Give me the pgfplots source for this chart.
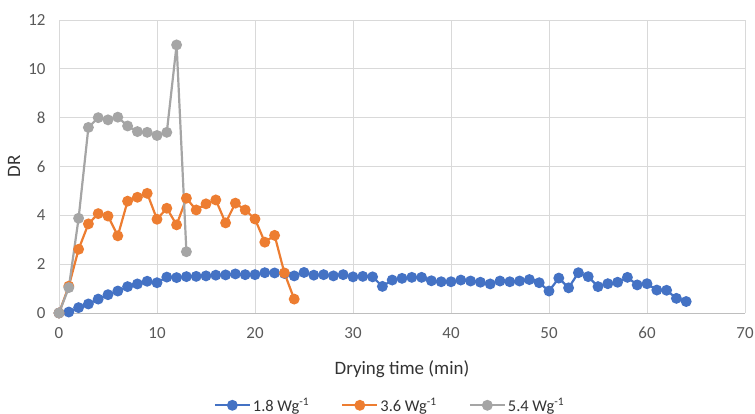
\documentclass[border=0pt]{standalone}
\usepackage{fontspec}
\setmainfont{Carlito}
\usepackage{pgfplots}
\pgfplotsset{compat=1.18}
\definecolor{cblue}{HTML}{4472C4}
\definecolor{corange}{HTML}{ED7D31}
\definecolor{cgray}{HTML}{A5A5A5}
\definecolor{cgrid}{HTML}{D9D9D9}
\definecolor{ctext}{HTML}{595959}
\begin{document}
\begin{tikzpicture}[x=1bp,y=1bp]
\begin{axis}[
  scale only axis, width=686bp, height=293bp,
  xmin=0, xmax=70, ymin=0, ymax=12,
  xtick={0,10,...,70}, ytick={0,2,...,12},
  grid=major, major grid style={cgrid, line width=0.8bp},
  axis line style={draw=none},
  tick style={draw=none},
  clip=false,
  /pgf/number format/assume math mode=true,
  ticklabel style={font=\fontsize{17}{19}\selectfont, text=ctext},
  xticklabel style={anchor=north, yshift=-11bp},
  yticklabel style={anchor=east, xshift=-10bp},
  xlabel={Drying time (min)}, ylabel={DR},
  label style={font=\fontsize{19}{21}\selectfont, text=black!80},
  xlabel style={at={(axis description cs:0.5,-0.191)}, anchor=center},
  ylabel style={at={(axis description cs:-0.0656,0.5)}, anchor=center},
  legend style={at={(axis description cs:0.4825,-0.315)}, anchor=center, draw=none, fill=none,
    font=\fontsize{16.5}{18}\selectfont, text=black!80, legend columns=3,
    /tikz/every even column/.append style={column sep=30bp}},
  legend image code/.code={
    \draw[#1, mark=none] (0bp,0bp) -- (35bp,0bp);
    \draw[#1, only marks] plot coordinates {(17.5bp,0bp)};
  },
  every axis plot/.append style={line width=2.2bp, mark=*, mark size=4.3bp},
]
\draw[color=cgrid!70!gray, line width=0.9bp] (axis cs:0,0) -- (axis cs:70,0);
\addplot[color=cblue, mark options={fill=cblue, draw=cblue}] coordinates {
(0,0)(1,0.04)(2,0.22)(3,0.37)(4,0.57)(5,0.75)(6,0.9)(7,1.08)(8,1.19)(9,1.3)
(10,1.24)(11,1.47)(12,1.45)(13,1.49)(14,1.5)(15,1.52)(16,1.55)(17,1.56)(18,1.6)(19,1.57)
(20,1.57)(21,1.65)(22,1.64)(23,1.62)(24,1.52)(25,1.66)(26,1.55)(27,1.57)(28,1.52)(29,1.57)
(30,1.48)(31,1.5)(32,1.48)(33,1.09)(34,1.35)(35,1.42)(36,1.46)(37,1.46)(38,1.32)(39,1.28)
(40,1.28)(41,1.35)(42,1.31)(43,1.26)(44,1.19)(45,1.31)(46,1.28)(47,1.31)(48,1.37)(49,1.24)
(50,0.9)(51,1.43)(52,1.03)(53,1.65)(54,1.49)(55,1.08)(56,1.2)(57,1.26)(58,1.46)(59,1.15)
(60,1.2)(61,0.94)(62,0.93)(63,0.6)(64,0.47)};
\addlegendentry{1.8 Wg\textsuperscript{-1}}
\addplot[color=corange, mark options={fill=corange, draw=corange}] coordinates {
(0,0)(1,1.1)(2,2.61)(3,3.65)(4,4.07)(5,3.97)(6,3.16)(7,4.58)(8,4.74)(9,4.9)
(10,3.84)(11,4.29)(12,3.61)(13,4.7)(14,4.22)(15,4.47)(16,4.63)(17,3.69)(18,4.5)(19,4.22)
(20,3.85)(21,2.9)(22,3.18)(23,1.64)(24,0.57)};
\addlegendentry{3.6 Wg\textsuperscript{-1}}
\addplot[color=cgray, mark options={fill=cgray, draw=cgray}] coordinates {
(0,0)(1,1.04)(2,3.88)(3,7.6)(4,8.0)(5,7.91)(6,8.02)(7,7.66)(8,7.43)(9,7.4)
(10,7.27)(11,7.4)(12,10.98)(13,2.51)};
\addlegendentry{5.4 Wg\textsuperscript{-1}}
\end{axis}
\pgfresetboundingbox
\path[use as bounding box] (-59bp,-101bp) rectangle (696bp,313bp);
\end{tikzpicture}
\end{document}
